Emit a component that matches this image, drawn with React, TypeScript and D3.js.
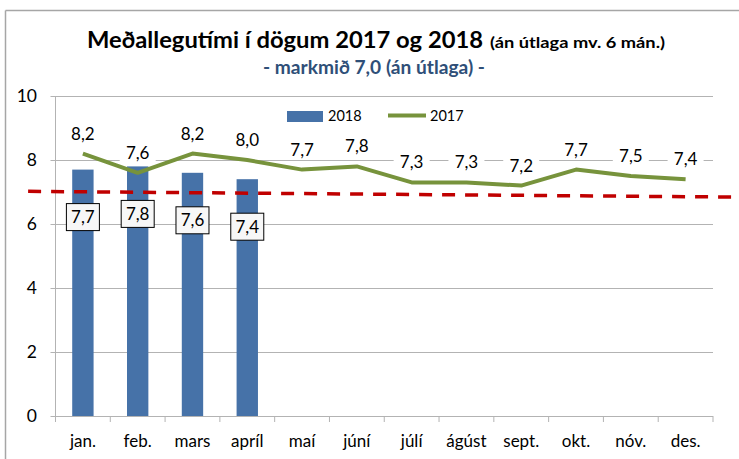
import React from "react";
import * as d3 from "d3";

const months = ["jan.", "feb.", "mars", "apríl", "maí", "júní", "júlí", "ágúst", "sept.", "okt.", "nóv.", "des."];
const values2018 = [7.7, 7.8, 7.6, 7.4];
const values2017 = [8.2, 7.6, 8.2, 8.0, 7.7, 7.8, 7.3, 7.3, 7.2, 7.7, 7.5, 7.4];
const targetStartEnd = [7.02, 6.84];
const yTicks = [0, 2, 4, 6, 8, 10];
const titleMain = "Meðallegutími í dögum 2017 og 2018";
const titleSmall = "(án útlaga mv. 6 mán.)";
const subtitle = "- markmið 7,0 (án útlaga) -";
const legendLabels = ["2018", "2017"];

const W = 739, H = 459;
const FONT = "Lato, 'Noto Sans', sans-serif";
const fmt = (v: number) => v.toFixed(1).replace(".", ",");

export default function App() {
  const left = 55.5, right = 713, top = 96, bottom = 416;
  const x = d3.scaleBand<string>().domain(months).range([left, right]).paddingInner(0).paddingOuter(0);
  const y = d3.scaleLinear().domain([0, 10]).range([bottom, top]);
  const bw = x.bandwidth();
  const barW = bw * 0.39;
  const cx = (i: number) => (x(months[i]) as number) + bw / 2;

  const line = d3.line<number>().x((_, i) => cx(i)).y((d) => y(d));
  const tx0 = left - bw / 2, tx1 = right + bw / 2;

  const grid = "#b3b3b3";
  return (
    <svg width={W} height={H} style={{ position: "absolute", left: 0, top: 0, background: "#fff" }} fontFamily={FONT}>
      <rect x={0} y={0} width={W} height={H} fill="#fff" />
      {/* frame */}
      <line x1={5.5} y1={10.5} x2={W} y2={10.5} stroke="#a6a6a6" strokeWidth={1.5} />
      <line x1={5.5} y1={10.5} x2={5.5} y2={H} stroke="#a6a6a6" strokeWidth={1.5} />

      {/* title */}
      <text x={87} y={48} textAnchor="start" fontWeight="bold" fill="#000">
        <tspan fontSize={23.5} textLength={396} lengthAdjust="spacingAndGlyphs">{titleMain}</tspan>
        <tspan x={490} fontSize={16} textLength={175} lengthAdjust="spacingAndGlyphs">{titleSmall}</tspan>
      </text>
      <text x={263} y={74} textAnchor="start" fontWeight="bold" fontSize={18} fill="#2f4f78" textLength={222} lengthAdjust="spacingAndGlyphs">{subtitle}</text>

      {/* gridlines */}
      {yTicks.map((t) => (
        <g key={t}>
          {t > 0 && <line x1={left - 5} x2={right} y1={y(t) + 0.5} y2={y(t) + 0.5} stroke={grid} strokeWidth={1} />}
          <text x={37} y={y(t) + 6} textAnchor="end" fontSize={17.5} fill="#000">{t}</text>
        </g>
      ))}
      <line x1={left} x2={left} y1={top} y2={bottom} stroke={grid} />
      <line x1={left - 5} x2={right} y1={bottom + 0.5} y2={bottom + 0.5} stroke={grid} />
      {months.map((m, i) => (
        <g key={m}>
          <line x1={(x(m) as number)} x2={(x(m) as number)} y1={bottom} y2={bottom + 6} stroke={grid} />
          <text x={cx(i)} y={447} textAnchor="middle" fontSize={17} fill="#000">{m}</text>
        </g>
      ))}
      <line x1={right} x2={right} y1={bottom} y2={bottom + 6} stroke={grid} />

      {/* bars */}
      {values2018.map((v, i) => (
        <rect key={i} x={cx(i) - barW / 2} y={y(v)} width={barW} height={bottom - y(v)} fill="#4672a8" />
      ))}

      {/* 2017 labels with white background */}
      {values2017.map((v, i) => (
        <g key={i}>
          <rect x={cx(i) - 18} y={y(v) - 32} width={36} height={22} fill="#fff" />
          <text x={cx(i)} y={y(v) - 14} textAnchor="middle" fontSize={17} fill="#000">{fmt(v)}</text>
        </g>
      ))}

      {/* target line */}
      <line x1={tx0} x2={tx1} y1={y(targetStartEnd[0])} y2={y(targetStartEnd[1])} stroke="#c00000" strokeWidth={3.5} strokeDasharray="13 10" />

      {/* 2017 line */}
      <path d={line(values2017) as string} fill="none" stroke="#77933c" strokeWidth={4} strokeLinejoin="round" />

      {/* bar labels */}
      {values2018.map((v, i) => (
        <g key={i}>
          <rect x={cx(i) - 16.5} y={y(v) + 34} width={33} height={27} fill="#f7f7f7" stroke="#000" strokeWidth={1} />
          <text x={cx(i)} y={y(v) + 53.5} textAnchor="middle" fontSize={17} fill="#000">{fmt(v)}</text>
        </g>
      ))}

      {/* legend */}
      <rect x={287} y={111} width={36} height={11} fill="#4672a8" />
      <text x={328} y={121} fontSize={14.5} fill="#000">{legendLabels[0]}</text>
      <line x1={388} x2={426} y1={115.5} y2={115.5} stroke="#77933c" strokeWidth={4} />
      <text x={430} y={121} fontSize={14.5} fill="#000">{legendLabels[1]}</text>
    </svg>
  );
}
